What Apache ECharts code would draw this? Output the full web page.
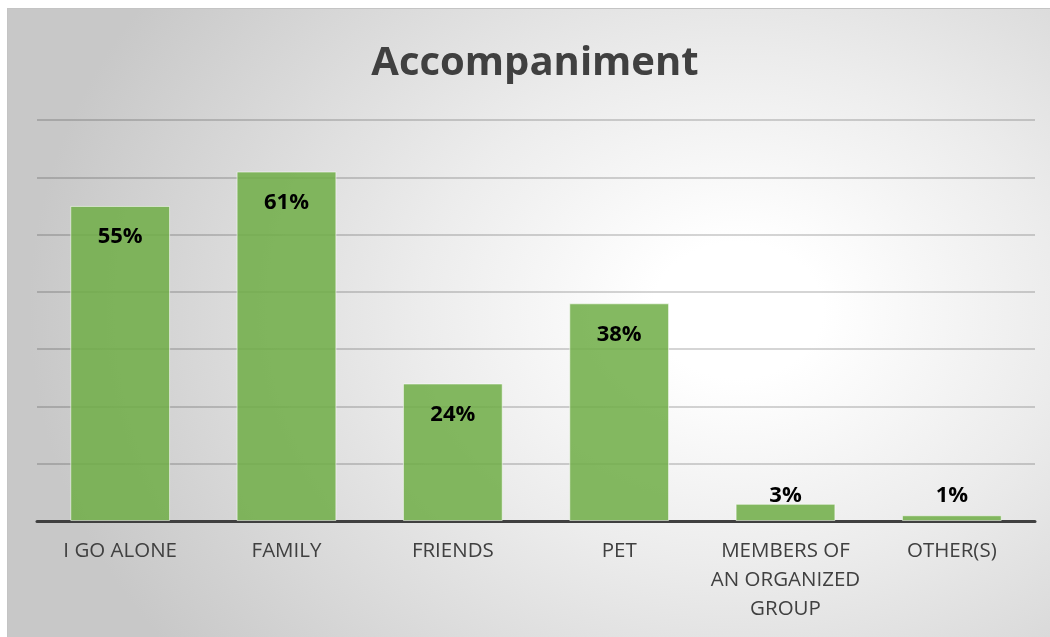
<!DOCTYPE html>
<html>
<head>
<meta charset="utf-8">
<script src="https://cdn.jsdelivr.net/npm/echarts@6/dist/echarts.min.js"></script>
<style>
html,body{margin:0;padding:0;background:#fff;width:1050px;height:637px;overflow:hidden;}
#wrap{position:absolute;left:7px;top:8px;width:1043px;height:629px;border-top:1px solid #c4c4c4;border-left:1px solid #c4c4c4;box-sizing:border-box;
background:radial-gradient(ellipse 68% 90% at 70% 48%, #ffffff 0%, #ffffff 12%, #ececec 45%, #c8c8c8 100%);}
#chart{position:absolute;left:0;top:0;width:1042px;height:628px;}
</style>
</head>
<body>
<div id="wrap"><div id="chart"></div></div>
<script>
const titleText = 'Accompaniment';
const categories = ['I GO ALONE', 'FAMILY', 'FRIENDS', 'PET', 'MEMBERS OF\nAN ORGANIZED\nGROUP', 'OTHER(S)'];
const values = [55, 61, 24, 38, 3, 1];
const yTicks = [0, 10, 20, 30, 40, 50, 60, 70];

const chart = echarts.init(document.getElementById('chart'), null, {renderer: 'canvas'});
const barData = values.map(v => {
  const small = v < 10;
  return {
    value: v,
    label: small
      ? {position: 'insideBottom', distance: 14}
      : {position: 'insideTop', distance: 20}
  };
});
chart.setOption({
  backgroundColor: 'transparent',
  animation: false,
  title: {
    text: titleText,
    left: 522,
    textAlign: 'center',
    top: 30,
    textStyle: {fontFamily: 'Open Sans', fontWeight: 'bold', fontSize: 40, color: '#404040'}
  },
  grid: {left: 29, right: 15, top: 111, bottom: 116, containLabel: false},
  xAxis: {
    type: 'category',
    data: categories,
    axisLine: {show: true, lineStyle: {color: '#404040', width: 3}},
    axisTick: {show: false},
    axisLabel: {fontFamily: 'Open Sans', fontSize: 20.5, color: '#404040', lineHeight: 29, margin: 16, interval: 0}
  },
  yAxis: {
    type: 'value',
    min: yTicks[0],
    max: yTicks[yTicks.length - 1],
    interval: yTicks[1] - yTicks[0],
    axisLabel: {show: false},
    axisLine: {show: false},
    axisTick: {show: false},
    splitLine: {show: true, lineStyle: {color: 'rgba(0,0,0,0.22)', width: 1.5}}
  },
  series: [{
    type: 'bar',
    data: barData,
    barWidth: '60%',
    itemStyle: {color: 'rgba(112,173,71,0.86)', borderColor: 'rgba(255,255,255,0.55)', borderWidth: 1},
    label: {
      show: true,
      formatter: p => p.value + '%',
      fontFamily: 'Open Sans',
      fontWeight: 'bold',
      fontSize: 22,
      color: '#000'
    }
  }]
});
</script>
</body>
</html>
